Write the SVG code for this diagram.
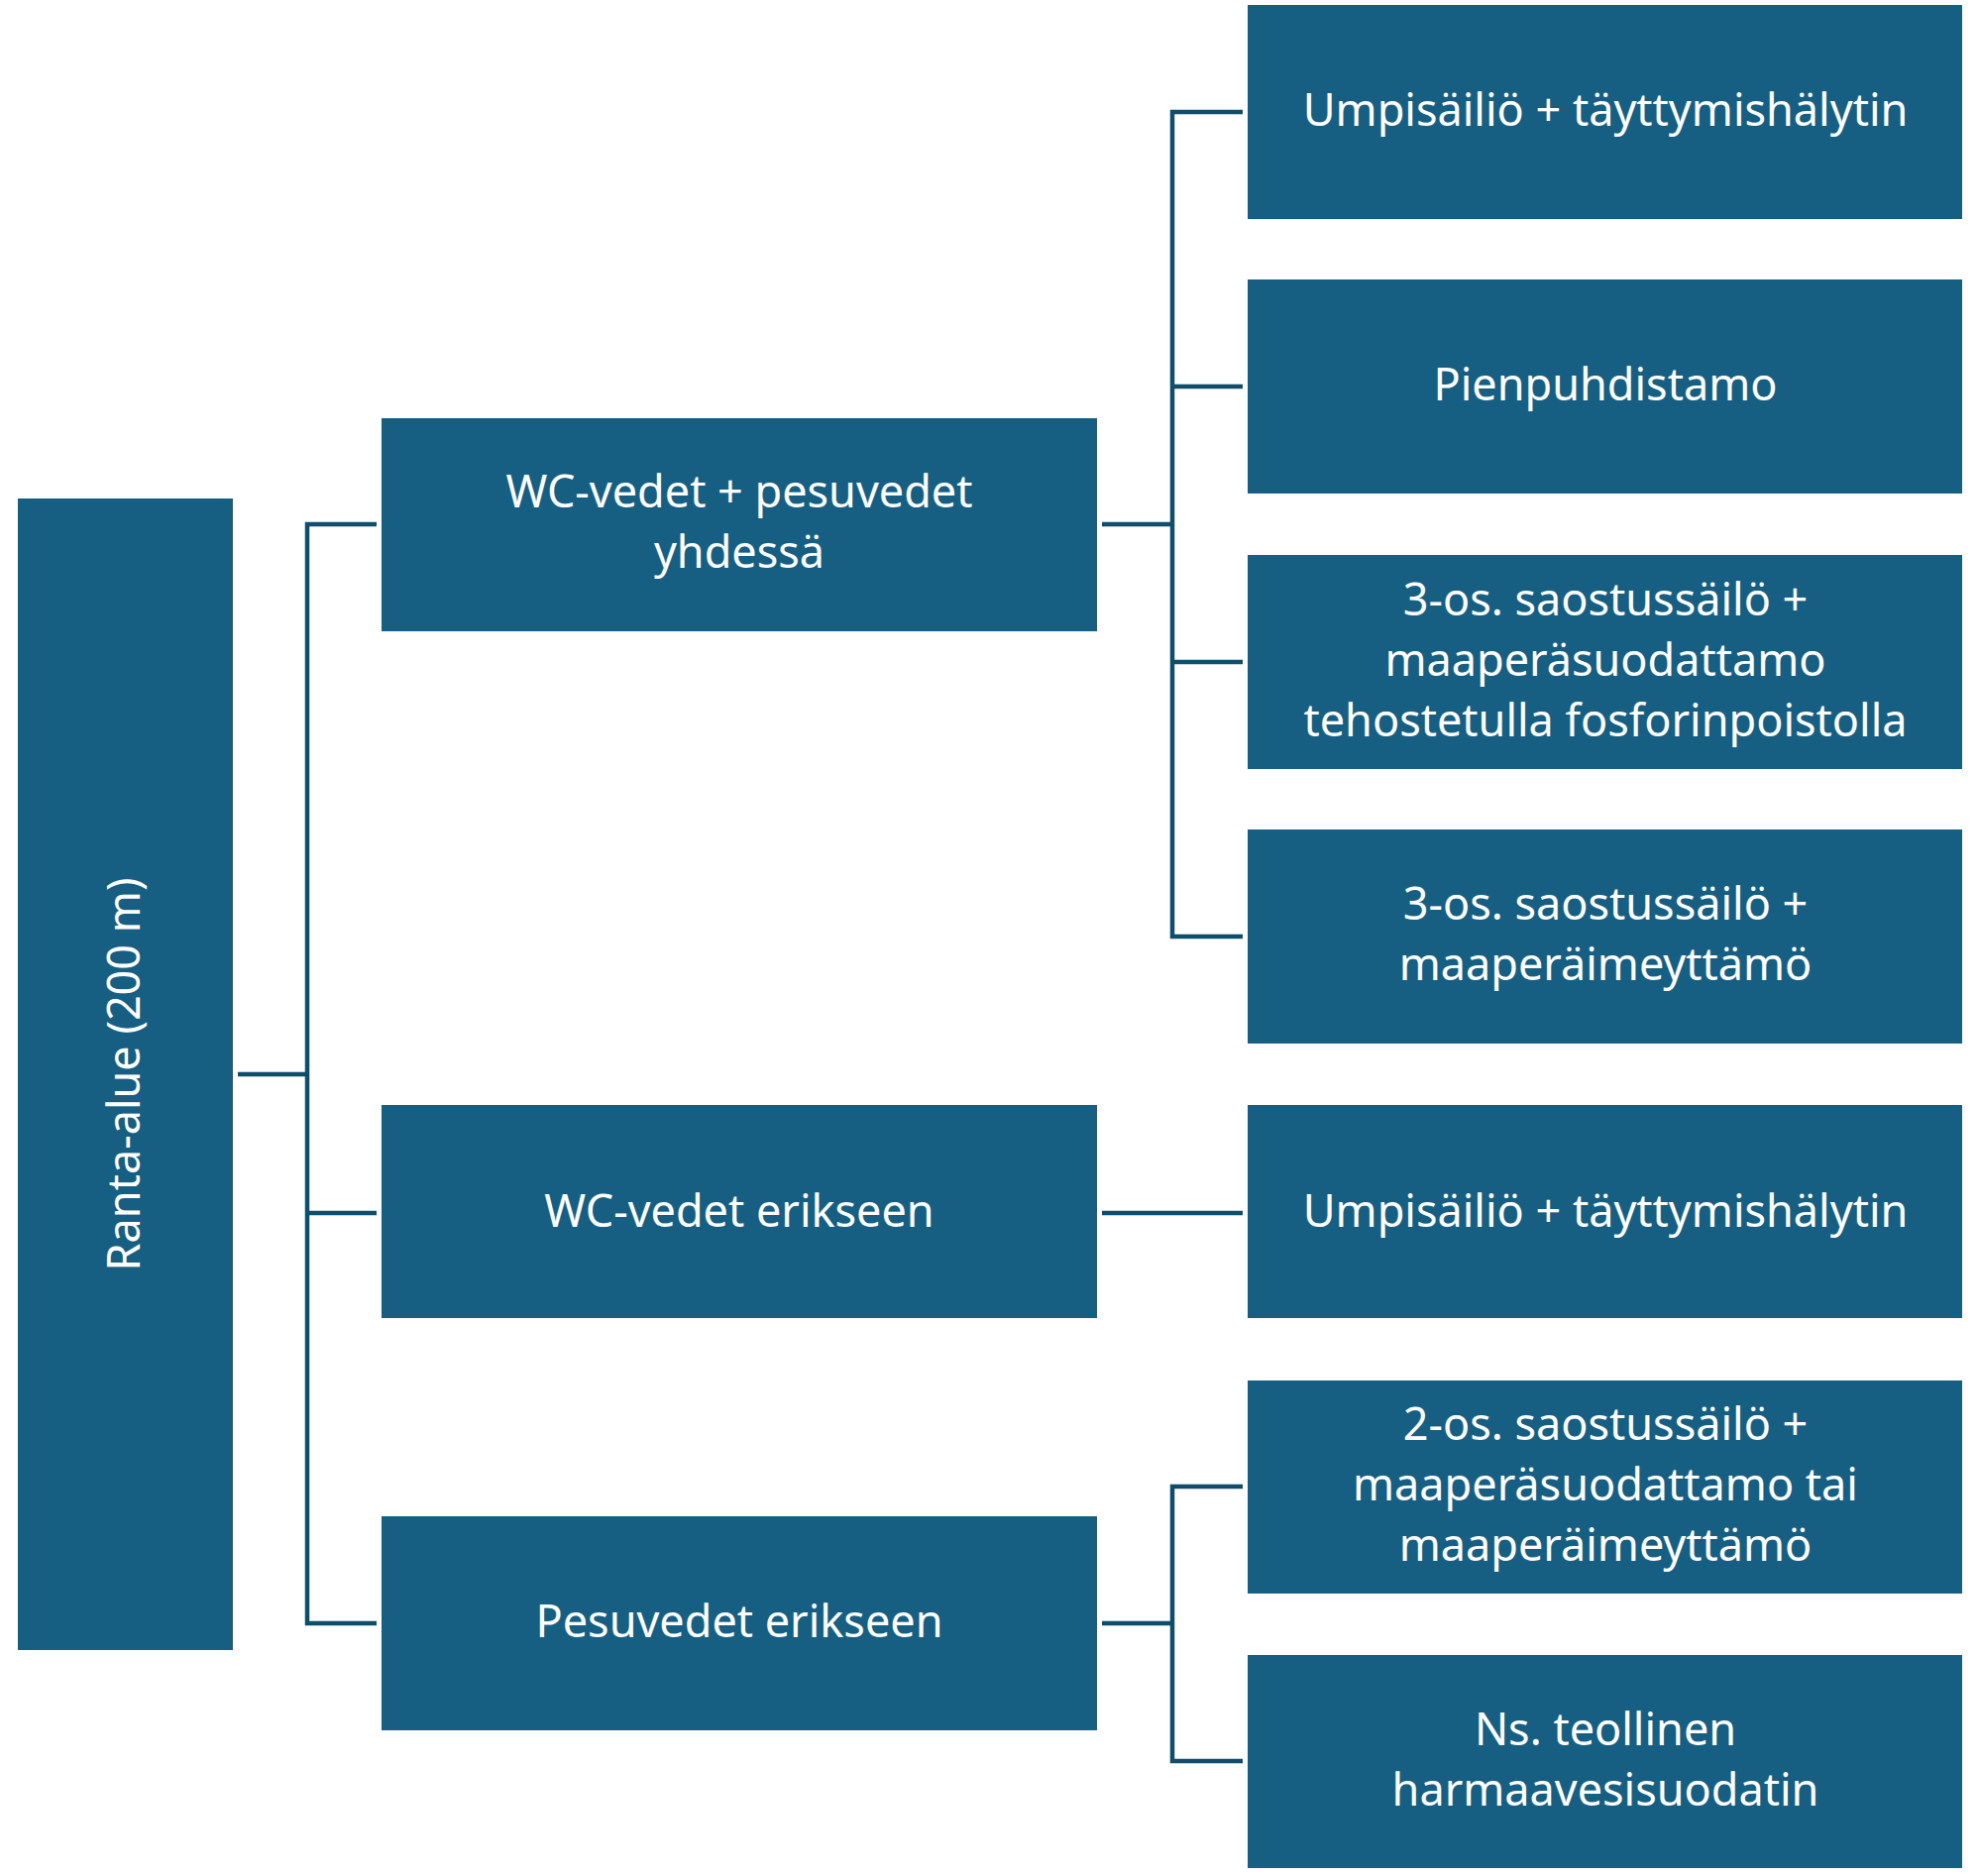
<svg xmlns="http://www.w3.org/2000/svg" width="1998" height="1893" viewBox="0 0 1998 1893">
<style>
rect{fill:#175F82}
text{fill:#fff;font-family:"Noto Sans","DejaVu Sans",sans-serif;font-size:45px;text-anchor:middle}
#connectors path{fill:none;stroke:#0F4D6B;stroke-width:4.5}
</style>
<rect x="0" y="0" width="1998" height="1893" style="fill:#fff"/>
<g id="connectors">
<path d="M240 1084H310M380 529H310V1638H380M310 1224H380"/>
<path d="M1112 529H1183M1254 113H1183V945H1254M1183 390H1254M1183 668H1254"/>
<path d="M1112 1224H1254"/>
<path d="M1112 1638H1183M1254 1500H1183V1777H1254"/>
</g>
<g id="n0"><rect x="18" y="503" width="217" height="1162"/><text transform="translate(141 1084) rotate(-90)">Ranta-alue (200 m)</text></g>
<g id="n1"><rect x="385" y="422" width="722" height="215"/><text x="746" y="512">WC-vedet + pesuvedet</text><text x="746" y="573">yhdessä</text></g>
<g id="n2"><rect x="385" y="1115" width="722" height="215"/><text x="746" y="1238">WC-vedet erikseen</text></g>
<g id="n3"><rect x="385" y="1530" width="722" height="216"/><text x="746" y="1652">Pesuvedet erikseen</text></g>
<g id="r1"><rect x="1259" y="5" width="721" height="216"/><text x="1620" y="127">Umpisäiliö + täyttymishälytin</text></g>
<g id="r2"><rect x="1259" y="282" width="721" height="216"/><text x="1620" y="404">Pienpuhdistamo</text></g>
<g id="r3"><rect x="1259" y="560" width="721" height="216"/><text x="1620" y="621">3-os. saostussäilö +</text><text x="1620" y="682">maaperäsuodattamo</text><text x="1620" y="743">tehostetulla fosforinpoistolla</text></g>
<g id="r4"><rect x="1259" y="837" width="721" height="216"/><text x="1620" y="928">3-os. saostussäilö +</text><text x="1620" y="989">maaperäimeyttämö</text></g>
<g id="r5"><rect x="1259" y="1115" width="721" height="215"/><text x="1620" y="1238">Umpisäiliö + täyttymishälytin</text></g>
<g id="r6"><rect x="1259" y="1393" width="721" height="215"/><text x="1620" y="1453">2-os. saostussäilö +</text><text x="1620" y="1514">maaperäsuodattamo tai</text><text x="1620" y="1575">maaperäimeyttämö</text></g>
<g id="r7"><rect x="1259" y="1670" width="721" height="215"/><text x="1620" y="1761">Ns. teollinen</text><text x="1620" y="1822">harmaavesisuodatin</text></g>
</svg>
